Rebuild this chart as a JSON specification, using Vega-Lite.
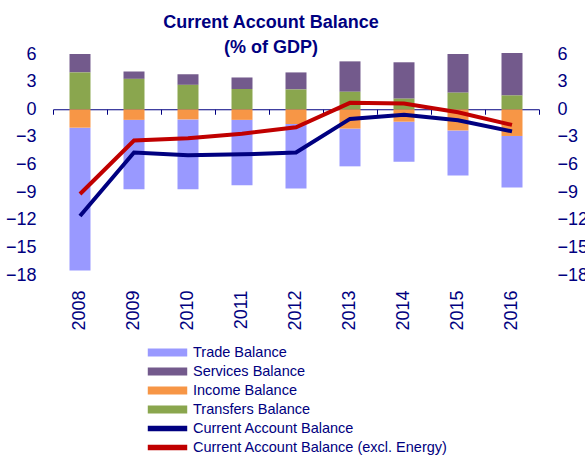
{
  "$schema": "https://vega.github.io/schema/vega-lite/v6.json",
  "width": 486,
  "height": 221,
  "autosize": {"type": "none"},
  "padding": {"left": 53, "top": 54, "right": 46, "bottom": 183},
  "background": "white",
  "config": {"font": "Liberation Sans", "view": {"stroke": null}, "axis": {"grid": false}},
  "title": {
    "text": ["Current Account Balance", "(% of GDP)"],
    "fontSize": 18,
    "fontWeight": "bold",
    "color": "#000080",
    "anchor": "middle",
    "frame": "group",
    "dx": -25,
    "offset": -12,
    "lineHeight": 25
  },
  "data": {
    "values": [
      {"year": "2008", "series": "Trade Balance", "kind": "bar", "ord": 2, "value": -15.5},
      {"year": "2009", "series": "Trade Balance", "kind": "bar", "ord": 2, "value": -7.55},
      {"year": "2010", "series": "Trade Balance", "kind": "bar", "ord": 2, "value": -7.6},
      {"year": "2011", "series": "Trade Balance", "kind": "bar", "ord": 2, "value": -7.1},
      {"year": "2012", "series": "Trade Balance", "kind": "bar", "ord": 2, "value": -7.0},
      {"year": "2013", "series": "Trade Balance", "kind": "bar", "ord": 2, "value": -4.1},
      {"year": "2014", "series": "Trade Balance", "kind": "bar", "ord": 2, "value": -4.35},
      {"year": "2015", "series": "Trade Balance", "kind": "bar", "ord": 2, "value": -4.9},
      {"year": "2016", "series": "Trade Balance", "kind": "bar", "ord": 2, "value": -5.6},
      {"year": "2008", "series": "Services Balance", "kind": "bar", "ord": 2, "value": 2.0},
      {"year": "2009", "series": "Services Balance", "kind": "bar", "ord": 2, "value": 0.8},
      {"year": "2010", "series": "Services Balance", "kind": "bar", "ord": 2, "value": 1.15},
      {"year": "2011", "series": "Services Balance", "kind": "bar", "ord": 2, "value": 1.25},
      {"year": "2012", "series": "Services Balance", "kind": "bar", "ord": 2, "value": 1.85},
      {"year": "2013", "series": "Services Balance", "kind": "bar", "ord": 2, "value": 3.3},
      {"year": "2014", "series": "Services Balance", "kind": "bar", "ord": 2, "value": 3.95},
      {"year": "2015", "series": "Services Balance", "kind": "bar", "ord": 2, "value": 4.2},
      {"year": "2016", "series": "Services Balance", "kind": "bar", "ord": 2, "value": 4.6},
      {"year": "2008", "series": "Income Balance", "kind": "bar", "ord": 1, "value": -2.0},
      {"year": "2009", "series": "Income Balance", "kind": "bar", "ord": 1, "value": -1.15},
      {"year": "2010", "series": "Income Balance", "kind": "bar", "ord": 1, "value": -1.1},
      {"year": "2011", "series": "Income Balance", "kind": "bar", "ord": 1, "value": -1.15},
      {"year": "2012", "series": "Income Balance", "kind": "bar", "ord": 1, "value": -1.6},
      {"year": "2013", "series": "Income Balance", "kind": "bar", "ord": 1, "value": -2.1},
      {"year": "2014", "series": "Income Balance", "kind": "bar", "ord": 1, "value": -1.35},
      {"year": "2015", "series": "Income Balance", "kind": "bar", "ord": 1, "value": -2.3},
      {"year": "2016", "series": "Income Balance", "kind": "bar", "ord": 1, "value": -2.9},
      {"year": "2008", "series": "Transfers Balance", "kind": "bar", "ord": 1, "value": 4.0},
      {"year": "2009", "series": "Transfers Balance", "kind": "bar", "ord": 1, "value": 3.3},
      {"year": "2010", "series": "Transfers Balance", "kind": "bar", "ord": 1, "value": 2.65},
      {"year": "2011", "series": "Transfers Balance", "kind": "bar", "ord": 1, "value": 2.2},
      {"year": "2012", "series": "Transfers Balance", "kind": "bar", "ord": 1, "value": 2.15},
      {"year": "2013", "series": "Transfers Balance", "kind": "bar", "ord": 1, "value": 1.9},
      {"year": "2014", "series": "Transfers Balance", "kind": "bar", "ord": 1, "value": 1.15},
      {"year": "2015", "series": "Transfers Balance", "kind": "bar", "ord": 1, "value": 1.8},
      {"year": "2016", "series": "Transfers Balance", "kind": "bar", "ord": 1, "value": 1.5},
      {"year": "2008", "series": "Current Account Balance", "kind": "line", "ord": 0, "value": -11.6},
      {"year": "2009", "series": "Current Account Balance", "kind": "line", "ord": 0, "value": -4.7},
      {"year": "2010", "series": "Current Account Balance", "kind": "line", "ord": 0, "value": -5.0},
      {"year": "2011", "series": "Current Account Balance", "kind": "line", "ord": 0, "value": -4.9},
      {"year": "2012", "series": "Current Account Balance", "kind": "line", "ord": 0, "value": -4.7},
      {"year": "2013", "series": "Current Account Balance", "kind": "line", "ord": 0, "value": -1.05},
      {"year": "2014", "series": "Current Account Balance", "kind": "line", "ord": 0, "value": -0.6},
      {"year": "2015", "series": "Current Account Balance", "kind": "line", "ord": 0, "value": -1.2},
      {"year": "2016", "series": "Current Account Balance", "kind": "line", "ord": 0, "value": -2.4},
      {"year": "2008", "series": "Current Account Balance (excl. Energy)", "kind": "line", "ord": 0, "value": -9.2},
      {"year": "2009", "series": "Current Account Balance (excl. Energy)", "kind": "line", "ord": 0, "value": -3.4},
      {"year": "2010", "series": "Current Account Balance (excl. Energy)", "kind": "line", "ord": 0, "value": -3.15},
      {"year": "2011", "series": "Current Account Balance (excl. Energy)", "kind": "line", "ord": 0, "value": -2.65},
      {"year": "2012", "series": "Current Account Balance (excl. Energy)", "kind": "line", "ord": 0, "value": -1.95},
      {"year": "2013", "series": "Current Account Balance (excl. Energy)", "kind": "line", "ord": 0, "value": 0.7},
      {"year": "2014", "series": "Current Account Balance (excl. Energy)", "kind": "line", "ord": 0, "value": 0.62},
      {"year": "2015", "series": "Current Account Balance (excl. Energy)", "kind": "line", "ord": 0, "value": -0.33},
      {"year": "2016", "series": "Current Account Balance (excl. Energy)", "kind": "line", "ord": 0, "value": -1.7}
    ]
  },
  "layer": [
    {
      "transform": [{"filter": "datum.kind == 'bar'"}],
      "mark": {"type": "bar", "width": 21},
      "encoding": {
        "x": {
          "field": "year", "type": "ordinal",
          "scale": {"paddingInner": 0, "paddingOuter": 0},
          "axis": {"orient": "bottom", "labelAngle": -90, "domain": false, "ticks": false, "labelPadding": 15, "labelFontSize": 18, "labelColor": "#000080", "title": null}
        },
        "y": {
          "field": "value", "type": "quantitative",
          "scale": {"domain": [-18, 6], "nice": false, "zero": false},
          "axis": {"orient": "left", "values": [-18, -15, -12, -9, -6, -3, 0, 3, 6], "domain": false, "ticks": false, "labelPadding": 17, "labelFontSize": 18, "labelColor": "#000080", "title": null}
        },
        "color": {
          "field": "series", "type": "nominal",
          "scale": {
            "domain": ["Trade Balance", "Services Balance", "Income Balance", "Transfers Balance", "Current Account Balance", "Current Account Balance (excl. Energy)"],
            "range": ["#9999FF", "#735A8C", "#F79646", "#8AA64E", "#000080", "#C00000"]
          },
          "legend": {
            "orient": "none", "legendX": 107, "legendY": 291, "title": null,
            "symbolType": "M-3,-0.5H3V0.5H-3Z", "symbolSize": 160,
            "labelFontSize": 14.5, "labelColor": "#000080", "rowPadding": 4, "labelOffset": 18, "labelLimit": 400,
            "encode": {
              "symbols": {
                "update": {
                  "fill": {"scale": "color", "field": "value"},
                  "stroke": {"value": "transparent"},
                  "shape": {"signal": "indexof(datum.value, 'Current') == 0 ? 'M-3,-0.3H3V0.3H-3Z' : 'M-3,-0.5H3V0.5H-3Z'"}
                }
              }
            }
          }
        },
        "order": {"field": "ord", "type": "quantitative"}
      }
    },
    {
      "transform": [{"filter": "datum.kind == 'line'"}],
      "mark": {"type": "line", "strokeWidth": 4},
      "encoding": {
        "x": {
          "field": "year", "type": "ordinal",
          "axis": {"orient": "bottom", "offset": -165.75, "labels": false, "domain": true, "domainColor": "#000080", "ticks": true, "tickColor": "#000080", "tickSize": 5, "tickBand": "extent", "title": null}
        },
        "y": {
          "field": "value", "type": "quantitative",
          "axis": {"orient": "right", "values": [-18, -15, -12, -9, -6, -3, 0, 3, 6], "domain": false, "ticks": false, "labelPadding": 18, "labelFontSize": 18, "labelColor": "#000080", "title": null}
        },
        "color": {"field": "series", "type": "nominal"}
      }
    }
  ],
  "resolve": {"axis": {"x": "independent", "y": "independent"}}
}
